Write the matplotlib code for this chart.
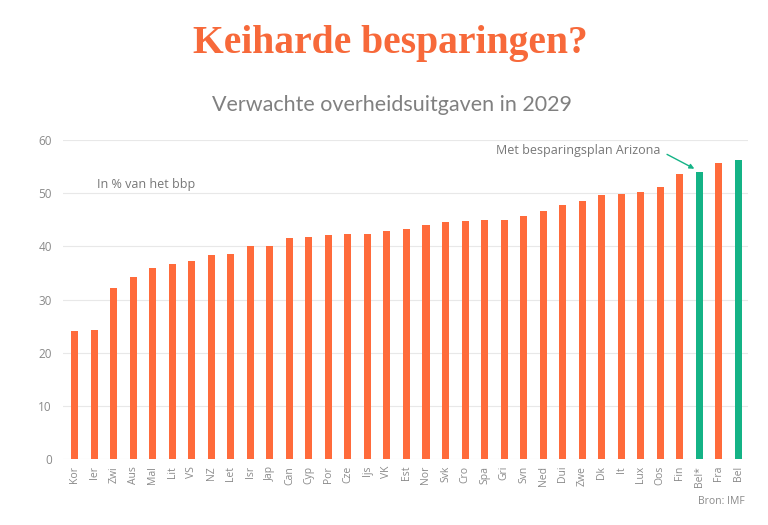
import matplotlib.pyplot as plt
import numpy as np

# landen en verwachte overheidsuitgaven 2029 (% bbp)
landen = ['Kor', 'Ier', 'Zwi', 'Aus', 'Mal', 'Lit', 'VS', 'NZ', 'Let', 'Isr',
          'Jap', 'Can', 'Cyp', 'Por', 'Cze', 'Ijs', 'VK', 'Est', 'Nor', 'Svk',
          'Cro', 'Spa', 'Gri', 'Svn', 'Ned', 'Dui', 'Zwe', 'Dk', 'It', 'Lux',
          'Oos', 'Fin', 'Bel*', 'Fra', 'Bel']
uitgaven = [24.1, 24.2, 32.1, 34.2, 36.0, 36.7, 37.2, 38.3, 38.5, 40.1,
            40.1, 41.5, 41.8, 42.2, 42.4, 42.4, 42.9, 43.2, 44.0, 44.5,
            44.7, 45.0, 45.0, 45.8, 46.6, 47.7, 48.5, 49.7, 49.9, 50.2,
            51.1, 53.7, 54.0, 55.7, 56.2]
belgie = ['Bel*', 'Bel']

ORANJE = '#FF6B3B'
GROEN = '#14B386'
GRIJS = '#8a8a8a'

fig = plt.figure(figsize=(7.68, 5.25), dpi=100)
ax = fig.add_axes([0.082, 0.1257, 0.892, 0.6076])

x = np.arange(len(landen))
kleuren = [GROEN if l in belgie else ORANJE for l in landen]
ax.bar(x, uitgaven, width=0.36, color=kleuren, zorder=3)

ax.set_xlim(-0.6, len(landen) - 0.5)
ax.set_ylim(0, 60)
ax.set_yticks(range(0, 61, 10))
ax.set_xticks(x)
ax.set_xticklabels(landen, rotation=90, family='Open Sans', fontsize=7.5, color=GRIJS)
for t in ax.get_yticklabels():
    t.set_family('Open Sans')
    t.set_fontsize(8.5)
    t.set_color(GRIJS)
ax.tick_params(length=0, pad=8)
ax.tick_params(axis='x', pad=5)
ax.grid(axis='y', color='#e8e8e8', linewidth=0.8, zorder=0)
for s in ax.spines.values():
    s.set_visible(False)

fig.text(0.508, 0.918, 'Keiharde besparingen?', ha='center', va='center',
         family='Liberation Serif', fontweight='bold', fontsize=28.5, color='#F7693A')
fig.text(0.51, 0.80, 'Verwachte overheidsuitgaven in 2029', ha='center', va='center',
         family='Lato', fontsize=15.5, color='#808080')

ax.text(0.05, 0.86, 'In % van het bbp', transform=ax.transAxes, ha='left', va='center',
        family='Open Sans', fontsize=9, color='#777777')

ax.text(30.0, 58.0, 'Met besparingsplan Arizona', ha='right', va='center',
        family='Open Sans', fontsize=9, color='#777777')
ax.annotate('', xy=(31.75, 54.6), xytext=(30.35, 57.3),
            arrowprops=dict(arrowstyle='-|>', color=GROEN, lw=1,
                            shrinkA=0, shrinkB=0, mutation_scale=7))

fig.text(0.97, 0.045, 'Bron: IMF', ha='right', va='center',
         family='Open Sans', fontsize=7.5, color=GRIJS)

fig.savefig('out.png', dpi=100, facecolor='white')
